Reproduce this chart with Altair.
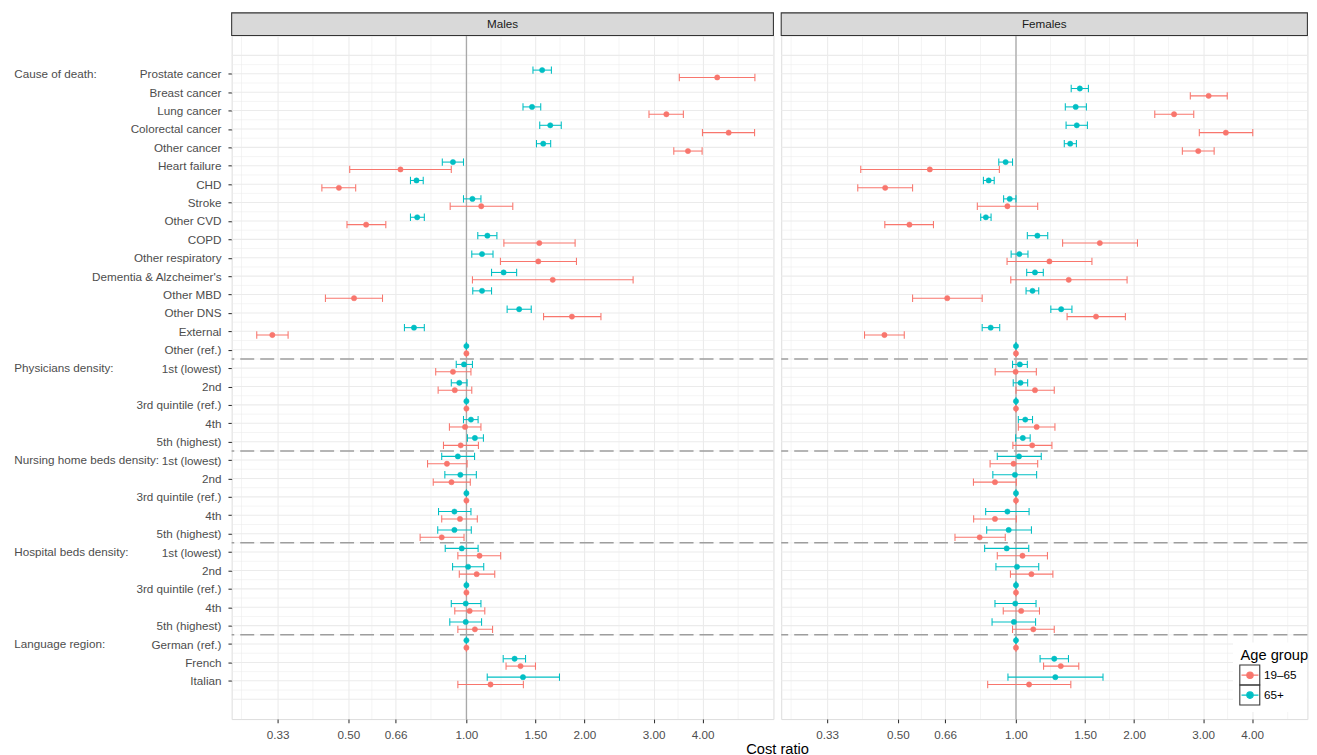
import json
import altair as alt
import pandas as pd

# ---------------- data ----------------
categories = [
    "Prostate cancer", "Breast cancer", "Lung cancer", "Colorectal cancer", "Other cancer",
    "Heart failure", "CHD", "Stroke", "Other CVD", "COPD", "Other respiratory",
    "Dementia & Alzcheimer's", "Other MBD", "Other DNS", "External", "Other (ref.)",
    "1st (lowest)", "2nd", "3rd quintile (ref.)", "4th", "5th (highest)",
    "1st (lowest)", "2nd", "3rd quintile (ref.)", "4th", "5th (highest)",
    "1st (lowest)", "2nd", "3rd quintile (ref.)", "4th", "5th (highest)",
    "German (ref.)", "French", "Italian",
]
group_labels = ["Cause of death:", "Physicians density:", "Nursing home beds density:",
                "Hospital beds density:", "Language region:"]
group_sizes = [16, 5, 5, 5, 3]
age_groups = ["19–65", "65+"]
x_breaks = [0.33, 0.5, 0.66, 1.0, 1.5, 2.0, 3.0, 4.0]
x_minor = [0.267, 0.406, 0.574, 0.812, 1.225, 1.732, 2.449, 3.464, 4.93]

m_old_est = [1.560, None, 1.470, 1.636, 1.570, 0.924, 0.746, 1.036, 0.749, 1.131, 1.096, 1.244, 1.096, 1.363, 0.735, 1.0,
             0.986, 0.959, 1.0, 1.027, 1.051, 0.951, 0.965, 1.0, 0.932, 0.932, 0.973, 1.010, 1.0, 0.996, 0.996, 1.0, 1.327, 1.394]
m_old_lo = [1.478, None, 1.394, 1.538, 1.509, 0.868, 0.720, 0.983, 0.720, 1.069, 1.032, 1.159, 1.038, 1.270, 0.695, 1.0,
            0.942, 0.915, 1.0, 0.983, 1.006, 0.865, 0.881, 1.0, 0.849, 0.845, 0.883, 0.922, 1.0, 0.915, 0.907, 1.0, 1.241, 1.130]
m_old_hi = [1.647, None, 1.547, 1.745, 1.640, 0.983, 0.776, 1.089, 0.781, 1.196, 1.169, 1.343, 1.159, 1.463, 0.781, 1.0,
            1.036, 1.004, 1.0, 1.071, 1.105, 1.049, 1.060, 1.0, 1.027, 1.029, 1.071, 1.107, 1.0, 1.089, 1.093, 1.0, 1.415, 1.727]
m_young_est = [4.36, None, 3.235, 4.663, 3.672, 0.679, 0.473, 1.091, 0.555, 1.534, 1.525, 1.660, 0.517, 1.858, 0.320, 1.0,
               0.924, 0.934, 1.0, 0.992, 0.967, 0.892, 0.916, 1.0, 0.963, 0.865, 1.080, 1.062, 1.0, 1.019, 1.051, 1.0, 1.374, 1.152]
m_young_lo = [3.49, None, 2.921, 3.998, 3.379, 0.504, 0.428, 0.909, 0.496, 1.246, 1.221, 1.036, 0.437, 1.573, 0.292, 1.0,
              0.835, 0.847, 1.0, 0.905, 0.874, 0.796, 0.823, 1.0, 0.865, 0.762, 0.951, 0.959, 1.0, 0.934, 0.951, 1.0, 1.262, 0.951]
m_young_hi = [5.44, None, 3.574, 5.43, 3.990, 0.915, 0.522, 1.313, 0.623, 1.893, 1.908, 2.661, 0.611, 2.203, 0.351, 1.0,
              1.027, 1.032, 1.0, 1.089, 1.073, 1.004, 1.023, 1.0, 1.066, 0.986, 1.223, 1.181, 1.0, 1.114, 1.166, 1.0, 1.500, 1.397]

f_old_est = [None, 1.455, 1.420, 1.429, 1.375, 0.941, 0.852, 0.964, 0.838, 1.134, 1.020, 1.118, 1.102, 1.304, 0.862, 1.0,
             1.023, 1.027, 1.0, 1.056, 1.041, 1.018, 0.994, 1.0, 0.951, 0.958, 0.947, 1.006, 1.0, 0.996, 0.988, 1.0, 1.252, 1.260]
f_old_lo = [None, 1.383, 1.336, 1.342, 1.328, 0.904, 0.826, 0.930, 0.813, 1.069, 0.972, 1.065, 1.061, 1.227, 0.820, 1.0,
            0.980, 0.984, 1.0, 1.014, 0.998, 0.896, 0.873, 1.0, 0.837, 0.842, 0.832, 0.889, 1.0, 0.884, 0.869, 1.0, 1.152, 0.954]
f_old_hi = [None, 1.530, 1.512, 1.521, 1.426, 0.980, 0.880, 1.0, 0.864, 1.205, 1.073, 1.174, 1.143, 1.389, 0.909, 1.0,
            1.069, 1.071, 1.0, 1.102, 1.087, 1.160, 1.129, 1.0, 1.080, 1.095, 1.078, 1.143, 1.0, 1.125, 1.122, 1.0, 1.361, 1.667]
f_young_est = [None, 3.099, 2.530, 3.429, 2.916, 0.603, 0.464, 0.951, 0.535, 1.636, 1.217, 1.363, 0.668, 1.600, 0.462, 1.0,
               0.998, 1.118, 1.0, 1.129, 1.100, 0.986, 0.884, 1.0, 0.884, 0.808, 1.039, 1.095, 1.0, 1.031, 1.107, 1.0, 1.301, 1.080]
f_young_lo = [None, 2.783, 2.259, 2.934, 2.656, 0.402, 0.395, 0.797, 0.463, 1.315, 0.949, 0.970, 0.545, 1.350, 0.411, 1.0,
              0.885, 1.0, 1.0, 1.014, 0.982, 0.859, 0.779, 1.0, 0.780, 0.699, 0.896, 0.968, 1.0, 0.928, 0.980, 1.0, 1.176, 0.847]
f_young_hi = [None, 3.457, 2.840, 4.016, 3.201, 0.907, 0.545, 1.136, 0.616, 2.041, 1.562, 1.920, 0.820, 1.901, 0.519, 1.0,
              1.127, 1.252, 1.0, 1.257, 1.235, 1.136, 1.002, 1.0, 1.002, 0.939, 1.203, 1.242, 1.0, 1.148, 1.252, 1.0, 1.446, 1.380]

# ---------------- tables ----------------
series = [
    ("Males", "19–65", m_young_est, m_young_lo, m_young_hi),
    ("Males", "65+", m_old_est, m_old_lo, m_old_hi),
    ("Females", "19–65", f_young_est, f_young_lo, f_young_hi),
    ("Females", "65+", f_old_est, f_old_lo, f_old_hi),
]
records = []
for sex, age, est, lo, hi in series:
    for i, (e, l, h) in enumerate(zip(est, lo, hi)):
        if e is None:
            continue
        records.append(dict(sex=sex, age=age, row=i, est=e, lo=l, hi=h))
df = pd.DataFrame(records)

n = len(categories)
starts = [sum(group_sizes[:k]) for k in range(len(group_sizes))]
df_groups = pd.DataFrame({"label": group_labels, "row": starts})
df_sep = pd.DataFrame({"y": [s - 0.5 for s in starts[1:]]})
df_ymaj = pd.DataFrame({"y": list(range(-1, n + 1))})
df_ymin = pd.DataFrame({"y": [k + 0.5 for k in range(-1, n)]})
df_xmin = pd.DataFrame({"v": x_minor})
df_ref = pd.DataFrame({"v": [1.0]})

# ---------------- style ----------------
RED, TEAL = "#F8766D", "#00BFC4"
FONT = "Liberation Sans"
GRID = "#EBEBEB"
DARK = "#333333"
H = 684.6
WM = 542.6
WF = 527.0
XMIN = 0.252
PX_PER_OCT = 118.24
LW = 1.07

yscale = alt.Scale(domain=[-2.08, n - 1 + 2.08], reverse=True, nice=False, zero=False)
cscale = alt.Scale(domain=age_groups, range=[RED, TEAL])
labels_expr = json.dumps(categories) + "[datum.value]"
LEGEND_PATH = "M-1,0H1M-0.38,0A0.38,0.38,0,1,0,0.38,0A0.38,0.38,0,1,0,-0.38,0Z"
LEG_X, LEG_Y = 460.0, 613.0


def panel(sex, width, first):
    xmax = XMIN * 2 ** (width / PX_PER_OCT)
    xscale = alt.Scale(type="log", domain=[XMIN, xmax], nice=False)
    if first:
        legend = None
    else:
        legend = alt.Legend(
            title="Age group", orient="none", legendX=LEG_X, legendY=LEG_Y,
            symbolType=LEGEND_PATH, symbolSize=289, symbolStrokeWidth=LW,
            labelFont=FONT, labelFontSize=11.7, labelColor="#000000", labelOffset=4.5,
            titleFont=FONT, titleFontSize=14.7, titleFontWeight="normal", titleColor="#000000",
            titlePadding=3.4, rowPadding=3, padding=0,
        )
    stroke = alt.Stroke("age:N", scale=cscale, legend=legend)
    fill = alt.Fill("age:N", scale=cscale, legend=legend)

    xaxis = alt.Axis(
        values=x_breaks, format=".2f", grid=True, gridColor=GRID, gridWidth=LW,
        domain=False, ticks=True, tickColor=DARK, tickSize=3.7, tickWidth=LW,
        labelFont=FONT, labelFontSize=11.7, labelColor="#4D4D4D", labelPadding=7,
        title="Cost ratio" if first else None,
        titleX=WM + 3.7, titleFont=FONT, titleFontSize=14.7, titleFontWeight="normal",
        titleColor="#000000", titlePadding=0,
    )
    if first:
        yaxis = alt.Axis(
            values=list(range(n)), labelExpr=labels_expr, grid=False, domain=False,
            ticks=True, tickColor=DARK, tickSize=3.7, tickWidth=LW,
            labelFont=FONT, labelFontSize=11.7, labelColor="#4D4D4D", labelPadding=7,
            title=None,
        )
    else:
        yaxis = None

    def X(field):
        return alt.X(field, scale=xscale, axis=xaxis)

    def Y(field):
        return alt.Y(field, scale=yscale, axis=yaxis)

    data = df[df["sex"] == sex]
    base = alt.Chart(data).transform_calculate(
        ypos="datum.row + (datum.age == '65+' ? -0.2 : 0.2)"
    ).transform_calculate(ytop="datum.ypos - 0.2", ybot="datum.ypos + 0.2")

    xminor = alt.Chart(df_xmin).mark_rule(color=GRID, strokeWidth=0.55).encode(x=X("v:Q"))
    ymaj = alt.Chart(df_ymaj).mark_rule(color=GRID, strokeWidth=LW).encode(y=Y("y:Q"))
    ymin = alt.Chart(df_ymin).mark_rule(color=GRID, strokeWidth=0.55).encode(y=Y("y:Q"))
    sep = alt.Chart(df_sep).mark_rule(color="#9E9E9E", strokeWidth=1.5, strokeDash=[14, 6]).encode(y=Y("y:Q"))
    ref = alt.Chart(df_ref).mark_rule(color="#A9A9A9", strokeWidth=1.3).encode(x=X("v:Q"))

    ci = base.mark_rule(strokeWidth=LW).encode(
        x=X("lo:Q"), x2="hi:Q", y=Y("ypos:Q"), stroke=stroke)
    cap_lo = base.mark_rule(strokeWidth=LW).encode(
        x=X("lo:Q"), y=Y("ytop:Q"), y2="ybot:Q", stroke=stroke)
    cap_hi = base.mark_rule(strokeWidth=LW).encode(
        x=X("hi:Q"), y=Y("ytop:Q"), y2="ybot:Q", stroke=stroke)
    pts = base.mark_circle(size=28, opacity=1, strokeWidth=0.5).encode(
        x=X("est:Q"), y=Y("ypos:Q"), stroke=stroke, fill=fill)

    strip_df = pd.DataFrame({"label": [sex]})
    strip = alt.Chart(strip_df).mark_rect(fill="#D9D9D9", stroke=DARK, strokeWidth=LW).encode(
        x=alt.value(0), x2=alt.value(width), y=alt.value(-22.7), y2=alt.value(0))
    strip_txt = alt.Chart(strip_df).mark_text(font=FONT, fontSize=11.7, color="#1A1A1A",
                                              baseline="middle").encode(
        x=alt.value(width / 2), y=alt.value(-11.35), text="label:N")

    layers = [xminor, ymaj, ymin, sep, ref, ci, cap_lo, cap_hi, pts]
    if first:
        glab = alt.Chart(df_groups).mark_text(font=FONT, fontSize=11.7, color="#4D4D4D",
                                              align="left", baseline="middle").encode(
            x=alt.value(-217.7), y=Y("row:Q"), text="label:N")
        layers.append(glab)
    else:
        leg_df = pd.DataFrame({"k": [0]})
        bx = LEG_X - 0.7
        by = LEG_Y + 17.5
        leg_bg = alt.Chart(leg_df).mark_rect(fill="white").encode(
            x=alt.value(LEG_X - 7.5), x2=alt.value(width - 0.6),
            y=alt.value(LEG_Y - 5), y2=alt.value(by + 47))
        keys = alt.Chart(leg_df).mark_rect(fill=None, stroke=DARK, strokeWidth=LW).encode(
            x=alt.value(bx), x2=alt.value(bx + 20), y=alt.value(by), y2=alt.value(by + 20))
        keys2 = alt.Chart(leg_df).mark_rect(fill=None, stroke=DARK, strokeWidth=LW).encode(
            x=alt.value(bx), x2=alt.value(bx + 20), y=alt.value(by + 20), y2=alt.value(by + 40))
        layers += [leg_bg, keys, keys2]
    layers += [strip, strip_txt]
    return alt.layer(*layers).properties(width=width, height=H)


males = panel("Males", WM, True)
females = panel("Females", WF, False)

chart = alt.hconcat(males, females, spacing=7.4, bounds="flush").resolve_scale(
    x="independent", y="independent", stroke="independent", fill="independent"
).properties(
    padding={"left": 5, "top": 3, "right": 0, "bottom": 0}
).configure_view(
    stroke=DARK, strokeWidth=LW
).configure(background="white")

chart.save("out.html", embed_options={"renderer": "svg", "actions": False})
